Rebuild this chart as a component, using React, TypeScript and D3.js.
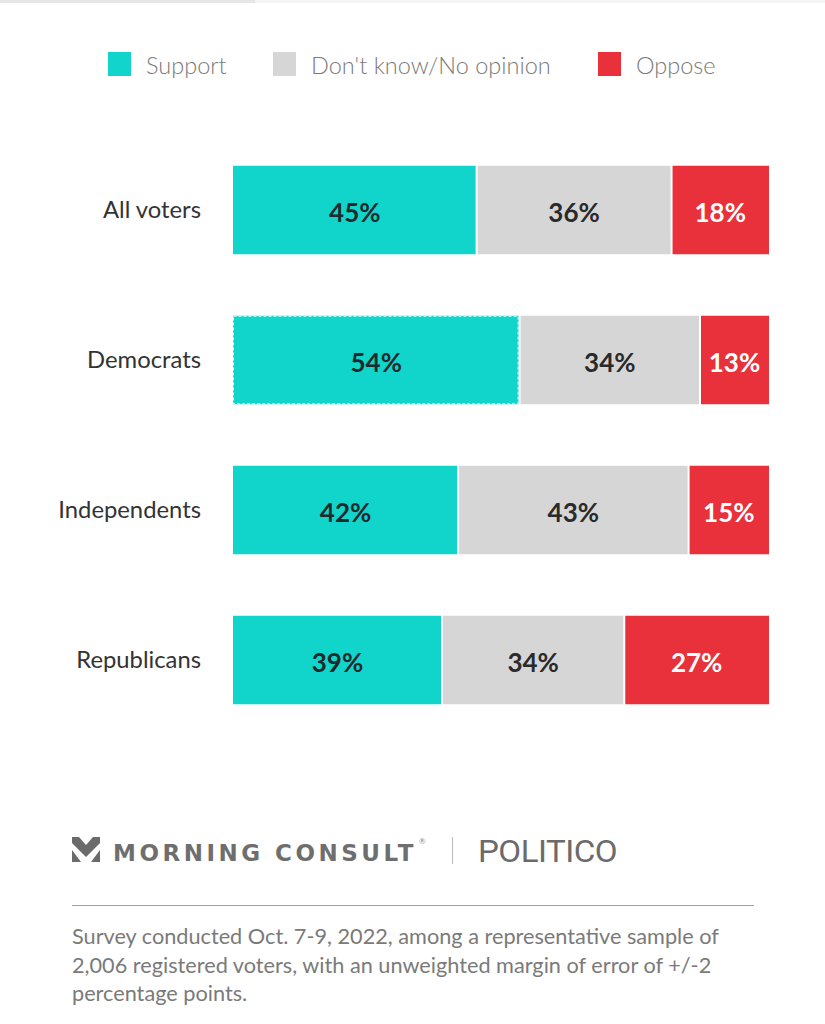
import React from "react";
import * as d3 from "d3";

const categories = ["All voters", "Democrats", "Independents", "Republicans"];
const seriesNames = ["Support", "Don't know/No opinion", "Oppose"];
const support = [45, 54, 42, 39];
const dontKnow = [36, 34, 43, 34];
const oppose = [18, 13, 15, 27];
const colors = ["#11d5ca", "#d6d6d6", "#e8313a"];
const labelColors = ["#1f2a2e", "#2a2a2a", "#ffffff"];
const footnote = [
  "Survey conducted Oct. 7-9, 2022, among a representative sample of",
  "2,006 registered voters, with an unweighted margin of error of +/-2",
  "percentage points.",
];

const W = 825;
const H = 1024;
const FONT = "Lato, 'Open Sans', 'Noto Sans', sans-serif";

export default function App() {
  const series = [support, dontKnow, oppose];
  const y = d3
    .scaleBand<string>()
    .domain(categories)
    .range([135, 735])
    .paddingInner(0.41)
    .paddingOuter(0.205);
  const x = d3.scaleLinear().domain([0, 1]).range([233, 769]);

  const rows = categories.map((c, i) => {
    const vals = series.map((s) => s[i]);
    const total = d3.sum(vals);
    let acc = 0;
    const segs = vals.map((v, j) => {
      const s0 = acc / total;
      acc += v;
      const s1 = acc / total;
      return { v, j, s0, s1 };
    });
    return { c, segs };
  });

  const legendX = [108, 273, 598];

  return (
    <svg
      width={W}
      height={H}
      viewBox={`0 0 ${W} ${H}`}
      style={{ position: "absolute", left: 0, top: 0, background: "#fff" }}
    >
      <rect x={0} y={0} width={W} height={H} fill="#fff" />
      <rect x={0} y={0} width={W} height={3} fill="#f4f4f4" />
      <rect x={0} y={0} width={255} height={3} fill="#e6e6e6" />

      {/* legend */}
      {seriesNames.map((n, j) => (
        <g key={n}>
          <rect x={legendX[j]} y={52} width={23} height={24} fill={colors[j]} />
          <text
            x={legendX[j] + 38}
            y={73.5}
            fontFamily={FONT}
            fontSize={23.5}
            fontWeight={300}
            fill="#7a7a7a"
          >
            {n}
          </text>
        </g>
      ))}

      {/* bars */}
      {rows.map((r) => {
        const y0 = y(r.c)!;
        const bh = y.bandwidth();
        return (
          <g key={r.c}>
            <text
              x={201}
              y={y0 + bh / 2}
              dy="0.35em"
              textAnchor="end"
              fontFamily={FONT}
              fontSize={23.8}
              fill="#333"
            >
              {r.c}
            </text>
            {r.segs.map((s) => {
              const xa = x(s.s0);
              const xb = x(s.s1);
              return (
                <g key={s.j}>
                  <rect
                    x={xa + (s.j > 0 ? 1 : 0)}
                    y={y0}
                    width={xb - xa - (s.j > 0 ? 1 : 0) - (s.j < 2 ? 1 : 0)}
                    height={bh}
                    fill={colors[s.j]}
                  />
                  <text
                    x={(xa + xb) / 2}
                    y={y0 + bh / 2 + 3}
                    dy="0.36em"
                    textAnchor="middle"
                    fontFamily={FONT}
                    fontWeight={700}
                    fontSize={26}
                    fill={labelColors[s.j]}
                  >
                    {s.v}%
                  </text>
                </g>
              );
            })}
            {r.c === "Democrats" && (
              <rect
                x={x(r.segs[0].s0) + 0.5}
                y={y0 + 0.5}
                width={x(r.segs[0].s1) - x(r.segs[0].s0) - 2}
                height={bh - 1}
                fill="none"
                stroke="#e8fbfa"
                strokeWidth={1}
                strokeDasharray="3,2"
              />
            )}
          </g>
        );
      })}

      {/* logos */}
      <g fill="#6b6b6b">
        <polygon points="72,837 79,837 86,845 93,837 100,837 100,843 86,857 72,843" />
        <polygon points="72,850 81,862 72,862" />
        <polygon points="100,850 91,862 100,862" />
      </g>
      <text
        x={113}
        y={861}
        fontFamily="'DejaVu Sans', Lato, sans-serif"
        fontWeight={700}
        fontSize={23}
        letterSpacing={3.5}
        fill="#6e6e6e"
      >
        MORNING CONSULT
      </text>
      <text x={419} y={844} fontFamily={FONT} fontSize={8} fill="#888">
        ®
      </text>
      <line x1={452.5} x2={452.5} y1={837} y2={864} stroke="#bbb" strokeWidth={1} />
      <text
        x={478}
        y={862}
        fontFamily="'Liberation Sans Narrow', 'Roboto', sans-serif"
        fontSize={31}
        letterSpacing={-0.5}
        fill="#6b6b6b"
        textLength={139}
        lengthAdjust="spacingAndGlyphs"
      >
        POLITICO
      </text>

      <line x1={72} x2={754} y1={905.5} y2={905.5} stroke="#a0a0a0" strokeWidth={1.2} />
      {footnote.map((t, i) => (
        <text
          key={i}
          x={72}
          y={944 + i * 28.5}
          fontFamily={FONT}
          fontSize={21.7}
          fontWeight={400}
          fill="#7a7a7a"
        >
          {t}
        </text>
      ))}
    </svg>
  );
}
